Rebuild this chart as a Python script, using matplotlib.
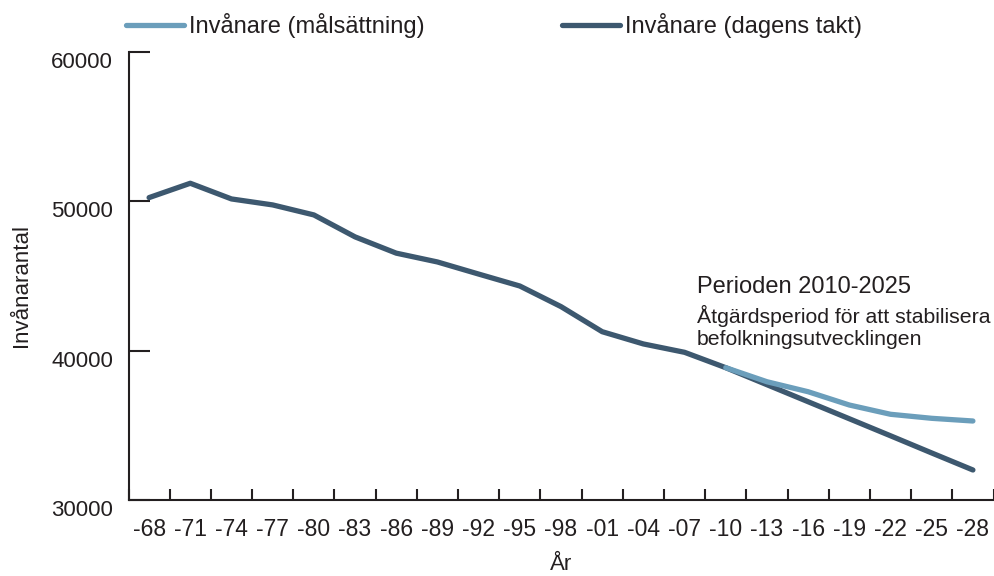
import numpy as np
import matplotlib.pyplot as plt

plt.rcParams['font.family'] = ['Liberation Sans', 'DejaVu Sans']

# year labels, one point every third year
years = ['-68', '-71', '-74', '-77', '-80', '-83', '-86', '-89', '-92', '-95', '-98',
         '-01', '-04', '-07', '-10', '-13', '-16', '-19', '-22', '-25', '-28']

# population at current pace (whole period)
dagens_takt = [50250, 51210, 50160, 49760, 49090, 47620, 46530, 45940, 45130, 44330, 42950,
               41270, 40450, 39890, 38860, 37720, 36580, 35440, 34300, 33150, 32010]

# population with target, from -10 onwards
malsattning_years = ['-10', '-13', '-16', '-19', '-22', '-25', '-28']
malsattning = [38860, 37920, 37250, 36360, 35740, 35470, 35290]

dark = '#3d586f'
light = '#6b9ebb'
ink = '#231f20'

fig = plt.figure(figsize=(9.94, 5.76), dpi=100)
ax = fig.add_axes([128.5 / 994, 76 / 576, 865 / 994, 448 / 576])

x = np.arange(len(years))
x_mal = [years.index(y) for y in malsattning_years]

l_dark, = ax.plot(x, dagens_takt, color=dark, lw=3.8, solid_capstyle='round',
                  solid_joinstyle='round', zorder=3)
l_light, = ax.plot(x_mal, malsattning, color=light, lw=3.8, solid_capstyle='round',
                   solid_joinstyle='round', zorder=4)

ax.set_xlim(-0.5, len(years) - 0.5)
ax.set_ylim(30000, 60000)

# category boundaries as ticks, labels centered in each category
ax.set_xticks(np.arange(len(years) + 1) - 0.5)
ax.set_xticklabels([])
ax.set_xticks(x, minor=True)
ax.set_xticklabels(years, minor=True, fontsize=16.5, color=ink)
ax.tick_params(axis='x', which='major', direction='in', length=8, width=1.5, color=ink)
ax.tick_params(axis='x', which='minor', length=0, pad=13)

ax.set_yticks([30000, 40000, 50000, 60000])
ax.set_yticklabels(['30000', '40000', '50000', '60000'], fontsize=16, color=ink)
ax.tick_params(axis='y', direction='in', length=15, width=1.5, color=ink, pad=11)
for lab in ax.get_yticklabels():
    lab.set_verticalalignment('top')

for side in ['top', 'right']:
    ax.spines[side].set_visible(False)
for side in ['left', 'bottom']:
    ax.spines[side].set_linewidth(1.5)
    ax.spines[side].set_color(ink)

ax.set_ylabel('Invånarantal', fontsize=16, color=ink)
ax.yaxis.set_label_coords(-0.111, 0.478)
ax.set_xlabel('År', fontsize=16, color=ink)
ax.xaxis.set_label_coords(0.5, -0.121)

ax.text(13.3, 43860, 'Perioden 2010-2025', fontsize=17, color=ink, va='baseline')
ax.text(13.3, 41830, 'Åtgärdsperiod för att stabilisera', fontsize=15.3, color=ink, va='baseline')
ax.text(13.3, 40370, 'befolkningsutvecklingen', fontsize=15.3, color=ink, va='baseline')

leg = fig.legend([l_light, l_dark], ['Invånare (målsättning)', 'Invånare (dagens takt)'],
                 loc='upper left', bbox_to_anchor=(126 / 994, 1 - 13 / 576), ncol=2,
                 frameon=False, fontsize=17, handlelength=2.45, handletextpad=0.2,
                 columnspacing=5.85, borderpad=0, borderaxespad=0)
for t in leg.get_texts():
    t.set_color(ink)

fig.savefig('out.png', dpi=100)
